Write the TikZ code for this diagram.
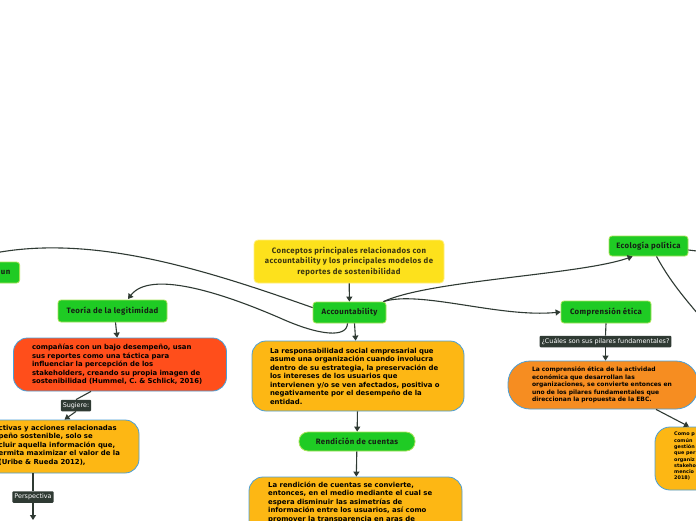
\documentclass[tikz,border=0pt]{standalone}
\usepackage{fontspec}
\setmainfont{DejaVu Sans}
\newfontfamily\ttlfont{Fira Sans}[LetterSpace=5]
\usetikzlibrary{arrows.meta}
\definecolor{greenfill}{HTML}{1FCB24}
\definecolor{greenborder}{HTML}{A9E45A}
\definecolor{titlefill}{HTML}{FDE11C}
\definecolor{titleborder}{HTML}{FFEF80}
\definecolor{titletext}{HTML}{3A3510}
\definecolor{redfill}{HTML}{FF4E1B}
\definecolor{yelfill}{HTML}{FDB714}
\definecolor{orfill}{HTML}{F68D21}
\definecolor{blueborder}{HTML}{4A9FD8}
\definecolor{lblfill}{HTML}{2F3A33}
\definecolor{conncol}{HTML}{2F3A33}
\definecolor{darktext}{HTML}{152015}
\begin{document}
\begin{tikzpicture}[x=1pt,y=-1pt,
  greenbox/.style={draw=greenborder, fill=greenfill, rounded corners=3pt, line width=0.8pt,
    font=\ttlfont\bfseries\fontsize{7.8}{9}\selectfont, text=darktext, inner sep=0pt},
  bigbox/.style={draw=blueborder, line width=0.8pt, rounded corners=14pt, inner sep=0pt,
    font=\bfseries\fontsize{6.9}{8.5}\selectfont, align=left, text=black},
  bodytext/.style={font=\bfseries\fontsize{6.9}{8.5}\selectfont, align=left, text=black, inner sep=0pt},
  lbl/.style={fill=lblfill, text=white, font=\fontsize{6.4}{7}\selectfont, inner xsep=2pt,
    inner ysep=0pt, minimum height=11.5pt, rounded corners=1pt},
  conn/.style={draw=conncol, line width=1.1pt},
  arr/.style={conn, -{Triangle[length=5pt,width=6pt]}}]
\useasboundingbox (0,0) rectangle (696,520);
\clip (0,0) rectangle (696,520);
\fill[white] (0,0) rectangle (696,520);

% title
\node[draw=titleborder, fill=titlefill, rounded corners=4pt, line width=0.8pt,
  minimum width=190pt, minimum height=43pt, align=center, text=titletext,
  font=\ttlfont\bfseries\fontsize{7.8}{10.5}\selectfont, inner sep=0pt]
  (title) at (349,261.5) {Conceptos principales relacionados con\\accountability y los principales modelos de\\reportes de sostenibilidad};

% green nodes
\node[greenbox, minimum width=73pt, minimum height=21pt] (acc) at (349.5,312.5) {Accountability};
\node[greenbox, minimum width=109pt, minimum height=22pt] (teo) at (112.5,311) {Teoría de la legitimidad};
\node[greenbox, minimum width=60pt, minimum height=21pt, anchor=east] (mun) at (20,272.5) {\hspace*{25pt}mun};
\node[greenbox, minimum width=116pt, minimum height=19pt, rounded corners=9pt] (ren) at (357,441.5) {Rendición de cuentas};
\node[greenbox, minimum width=79pt, minimum height=20pt] (eco) at (648.5,246) {Ecología política};
\node[greenbox, minimum width=90pt, minimum height=22pt] (com) at (606,312) {Comprensión ética};

% big boxes
\node[bigbox, fill=redfill, minimum width=213pt, minimum height=53pt, text width=176pt] (red) at (120,364.5)
 {compañías con un bajo desempeño, usan\\sus reportes como una táctica para\\influenciar la percepción de los\\stakeholders, creando su propia imagen de\\sostenibilidad (Hummel, C. \& Schlick, 2016)};

\node[bigbox, fill=yelfill, minimum width=259pt, minimum height=53pt] (ylw) at (9.5,446.5) {};
\node[bodytext, anchor=north west] (ylwtext) at (-1.5,425)
 {ctivas y acciones relacionadas\\peño sostenible, solo se\\cluir aquella información que,\\ermita maximizar el valor de la\\(Uribe \& Rueda 2012),};

\node[bigbox, fill=yelfill, minimum width=212pt, minimum height=70pt, text width=176pt] (rse) at (358,376)
 {La responsabilidad social empresarial que\\asume una organización cuando involucra\\dentro de su estrategia, la preservación de\\los intereses de los usuarios que\\intervienen y/o se ven afectados, positiva o\\negativamente por el desempeño de la\\entidad.};

\node[bigbox, fill=yelfill, minimum width=213pt, minimum height=80pt] (rdc) at (355.5,517) {};
\node[bodytext, anchor=north west] (rdctext) at (268,481.5)
 {La rendición de cuentas se convierte,\\entonces, en el medio mediante el cual se\\espera disminuir las asimetrías de\\información entre los usuarios, así como\\promover la transparencia en aras de};

\node[bigbox, fill=orfill, rounded corners=22pt, minimum width=190pt, minimum height=48pt,
  text width=142pt, font=\bfseries\fontsize{6}{7.5}\selectfont] (etc) at (603,385)
 {La comprensión ética de la actividad\\económica que desarrollan las\\organizaciones, se convierte entonces en\\uno de los pilares fundamentales que\\direccionan la propuesta de la EBC.};

\node[bigbox, fill=yelfill, rounded corners=15pt, minimum width=90pt, minimum height=63pt] (cpb) at (700,458.5) {};
\node[bodytext, anchor=north west, font=\bfseries\fontsize{4.9}{6.3}\selectfont] (cpbtext) at (674,432)
 {Como p\\común\\gestión\\que per\\organiz\\stakeho\\mencio\\2018)};

% labels
\node[lbl] (sug) at (76,405.5) {Sugiere:};
\node[lbl] (per) at (33,497) {Perspectiva};
\node[lbl] (pil) at (605.5,341.5) {¿Cuáles son sus pilares fundamentales?};

\coordinate (offl) at (-40,262);
\coordinate (offr) at (725,345);
\coordinate (offr2) at (705,252);
\coordinate (offb) at (33,520);

% connectors
\draw[arr] (title) -- (acc);
\draw[conn] ([yshift=-6pt]acc.north west) .. controls (200,268) and (70,225) .. (offl);
\draw[arr] ([xshift=-2pt]acc.south) .. controls (347,338) and (320,336) .. (280,318)
   .. controls (220,292) and (150,270) .. (128,299);
\draw[arr] ([xshift=-3pt]acc.north east) .. controls (430,280) and (580,275) .. ([xshift=24pt]eco.south west);
\draw[arr] ([xshift=-3pt]acc.north east) .. controls (420,290) and (500,318) .. (com.west);
\draw[arr] ([xshift=5pt]acc.south) -- (rse);
\draw[arr] (rse) -- (ren);
\draw[arr] (ren) -- (rdc);
\draw[arr] ([xshift=3pt]teo.south) -- (red);
\draw[conn] ([xshift=-29pt]red.south) -- (sug.north);
\draw[arr] (sug.south) -- ([xshift=55pt]ylw.north);
\draw[conn] ([xshift=23.5pt]ylw.south) -- (per.north);
\draw[arr] (per.south) -- (offb);
\draw[conn] (com.south) -- (pil.north);
\draw[arr] (pil.south) -- (etc.north -| pil.south);
\draw[arr] ([xshift=53pt]etc.south) -- ([xshift=-11pt]cpb.north);
\draw[conn] ([xshift=8pt]eco.south) .. controls (672,285) and (690,305) .. (offr);
\draw[conn] ([yshift=-4pt]eco.east) -- (offr2);
\end{tikzpicture}
\end{document}
